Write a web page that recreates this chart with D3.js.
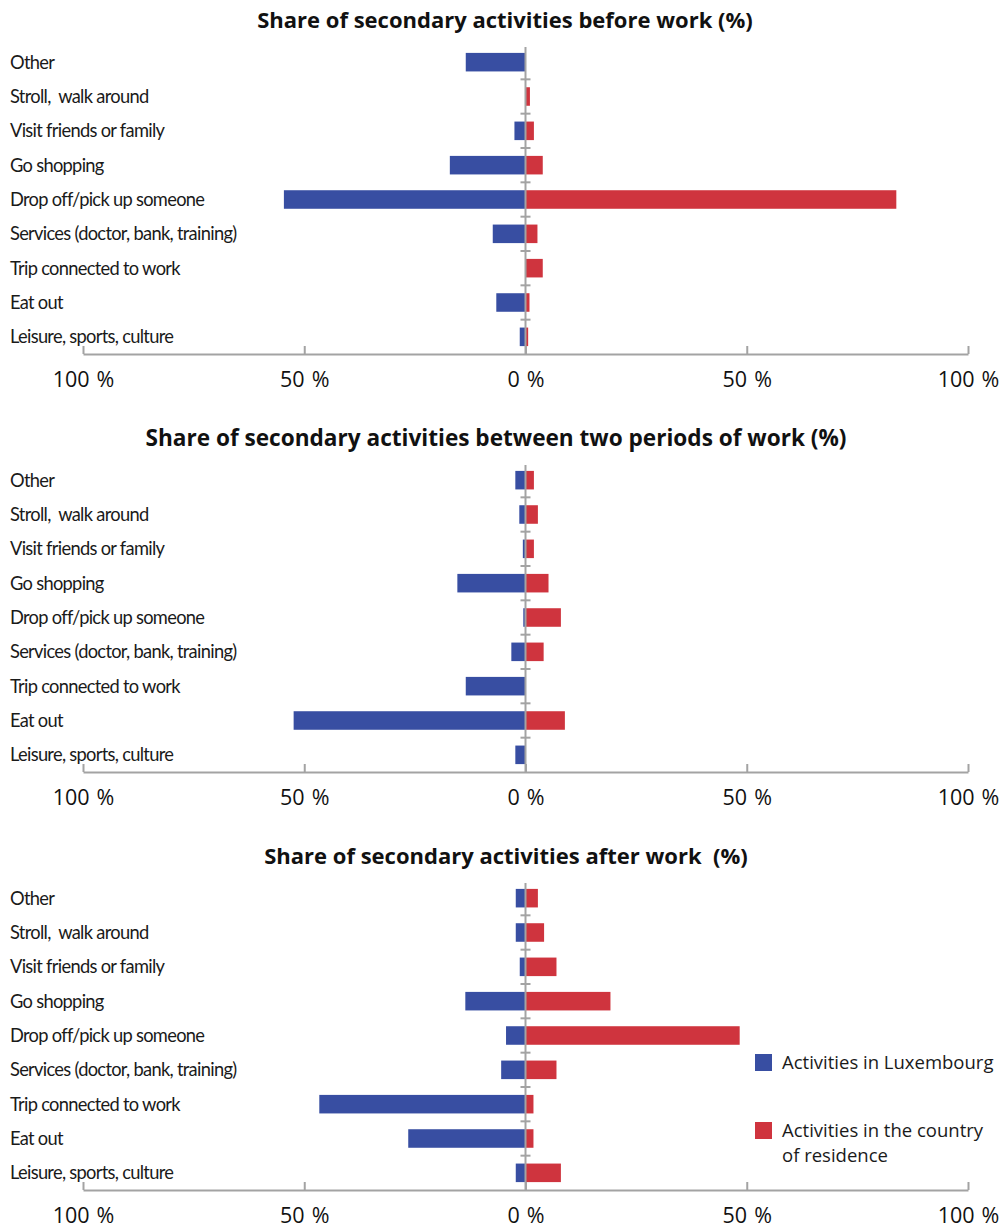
<!DOCTYPE html>
<html>
<head>
<meta charset="utf-8">
<script src="https://cdn.jsdelivr.net/npm/d3@7"></script>
<style>
  html, body { margin: 0; padding: 0; background: #fff; }
  svg { display: block; }
  text { white-space: pre; }
</style>
</head>
<body>
<svg id="chart" width="1005" height="1229"></svg>
<script>
// Activities, top to bottom
const categories = [
  "Other",
  "Stroll,  walk around",
  "Visit friends or family",
  "Go shopping",
  "Drop off/pick up someone",
  "Services (doctor, bank, training)",
  "Trip connected to work",
  "Eat out",
  "Leisure, sports, culture"
];

const panelTitles = [
  "Share of secondary activities before work (%)",
  "Share of secondary activities between two periods of work (%)",
  "Share of secondary activities after work  (%)"
];

// Shares (%) of activities carried out in Luxembourg
const luxBefore  = [13.5, 0, 2.5, 17.1, 54.6, 7.4, 0, 6.6, 1.3];
const luxBetween = [2.3, 1.4, 0.6, 15.4, 0.5, 3.2, 13.5, 52.4, 2.3];
const luxAfter   = [2.2, 2.2, 1.3, 13.6, 4.4, 5.5, 46.6, 26.5, 2.2];

// Shares (%) of activities carried out in the country of residence
const resBefore  = [0, 1.0, 1.9, 3.9, 83.8, 2.7, 3.9, 0.9, 0.6];
const resBetween = [1.9, 2.8, 1.9, 5.2, 8.0, 4.1, 0, 8.9, 0];
const resAfter   = [2.8, 4.2, 7.0, 19.2, 48.4, 7.0, 1.8, 1.8, 8.0];

const tickValues = [-100, -50, 0, 50, 100];
const tickLabels = ["100 %", "50 %", "0 %", "50 %", "100 %"];

const legendLabels = [
  ["Activities in Luxembourg"],
  ["Activities in the country", "of residence"]
];

const panels = [
  { title: panelTitles[0], lux: luxBefore,  res: resBefore,  axisY: 354, titleX: 505, titleSize: 22 },
  { title: panelTitles[1], lux: luxBetween, res: resBetween, axisY: 772, titleX: 496, titleSize: 22.6 },
  { title: panelTitles[2], lux: luxAfter,   res: resAfter,   axisY: 1190, titleX: 506, titleSize: 22 }
];

const BLUE = "#384ea2";
const RED = "#cf343e";
const GRAY = "#a3a3a3";

const svg = d3.select("#chart");

const x = d3.scaleLinear().domain([-100, 100]).range([83, 968]);

panels.forEach((p) => {
  const g = svg.append("g");
  const bandH = 309;
  const y = d3.scaleBand()
    .domain(categories)
    .range([p.axisY - bandH, p.axisY])
    .paddingInner(0.46)
    .paddingOuter(0.23);

  // title
  g.append("text")
    .attr("x", p.titleX)
    .attr("y", p.axisY - bandH - 17)
    .attr("text-anchor", "middle")
    .attr("font-family", "'Open Sans', sans-serif")
    .attr("font-weight", 700)
    .attr("font-size", p.titleSize)
    .attr("fill", "#111")
    .text(p.title);

  // category labels
  g.selectAll("text.cat")
    .data(categories)
    .join("text")
    .attr("class", "cat")
    .attr("x", 10)
    .attr("y", d => y(d) + y.bandwidth() / 2)
    .attr("dy", "0.35em")
    .attr("font-family", "Lato, sans-serif")
    .attr("font-size", 18.3)
    .attr("letter-spacing", -0.7)
    .attr("fill", "#1a1a1a")
    .text(d => d);

  // bars: Luxembourg to the left, country of residence to the right
  g.selectAll("rect.lux")
    .data(categories.map((c, i) => ({ c, v: p.lux[i] })))
    .join("rect")
    .attr("class", "lux")
    .attr("x", d => x(-d.v))
    .attr("y", d => y(d.c))
    .attr("width", d => x(0) - x(-d.v))
    .attr("height", y.bandwidth())
    .attr("fill", BLUE);

  g.selectAll("rect.res")
    .data(categories.map((c, i) => ({ c, v: p.res[i] })))
    .join("rect")
    .attr("class", "res")
    .attr("x", x(0))
    .attr("y", d => y(d.c))
    .attr("width", d => x(d.v) - x(0))
    .attr("height", y.bandwidth())
    .attr("fill", RED);

  // bottom axis with upward ticks
  const axis = d3.axisBottom(x)
    .tickValues(tickValues)
    .tickFormat((d, i) => tickLabels[i])
    .tickSizeInner(-8)
    .tickSizeOuter(0)
    .tickPadding(18);

  const ax = g.append("g")
    .attr("transform", `translate(0,${p.axisY})`)
    .call(axis);
  ax.select(".domain").attr("stroke", GRAY).attr("stroke-width", 2);
  ax.selectAll(".tick line").attr("stroke", GRAY).attr("stroke-width", 2);
  ax.selectAll(".tick text")
    .attr("font-family", "'Open Sans', sans-serif")
    .attr("font-size", 21.5)
    .attr("word-spacing", 1.5)
    .attr("fill", "#111");

  // zero line with category separators
  g.append("line")
    .attr("x1", x(0)).attr("x2", x(0))
    .attr("y1", p.axisY - bandH + 2).attr("y2", p.axisY)
    .attr("stroke", GRAY).attr("stroke-width", 2);

  g.selectAll("line.sep")
    .data(categories.slice(1))
    .join("line")
    .attr("class", "sep")
    .attr("x1", x(0) - 5).attr("x2", x(0) + 5)
    .attr("y1", d => y(d) - (y.step() - y.bandwidth()) / 2)
    .attr("y2", d => y(d) - (y.step() - y.bandwidth()) / 2)
    .attr("stroke", GRAY).attr("stroke-width", 2);
});

// legend
const legend = svg.append("g").attr("transform", "translate(755,1054)");
const legendColors = [BLUE, RED];
legendLabels.forEach((lines, i) => {
  const gy = i * 68;
  legend.append("rect")
    .attr("x", 0).attr("y", gy)
    .attr("width", 17).attr("height", 17)
    .attr("fill", legendColors[i]);
  lines.forEach((t, j) => {
    legend.append("text")
      .attr("x", 27)
      .attr("y", gy + 8.5 + j * 25)
      .attr("dy", "0.35em")
      .attr("font-family", "'Open Sans', sans-serif")
      .attr("font-size", 18.5)
      .attr("fill", "#1a1a1a")
      .text(t);
  });
});
</script>
</body>
</html>
